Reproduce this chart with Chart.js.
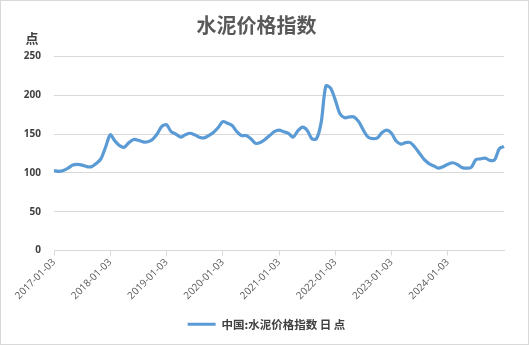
<!DOCTYPE html>
<html>
<head>
<meta charset="utf-8">
<script src="https://cdn.jsdelivr.net/npm/chart.js@4.4.1/dist/chart.umd.min.js"></script>
<style>
  html, body { margin: 0; padding: 0; background: #fff; }
  #wrap { width: 529px; height: 345px; box-sizing: border-box; border: 1px solid #d9d9d9; }
  canvas { display: block; }
</style>
</head>
<body>
<div id="wrap"><canvas id="c" width="527" height="343"></canvas></div>
<script>
/* 水泥价格指数 — monthly readings, 2017-01 .. 2025-01 */
var TITLE = "水泥价格指数";
var UNIT = "点";
var SERIES_NAME = "中国:水泥价格指数 日 点";

var startYear = 2017;
var values = [
  103, 102, 103, 106, 110, 111, 110, 108, 108, 112, 118, 133,   // 2017
  149, 141, 135, 133, 139, 143, 142, 140, 140, 143, 150, 160,   // 2018
  162, 153, 150, 146, 149, 151, 149, 146, 145, 148, 152, 158,   // 2019
  166, 164, 161, 153, 148, 148, 144, 138, 139, 143, 148, 153,   // 2020
  155, 153, 151, 146, 154, 159, 155, 144, 144, 165, 212, 209,   // 2021
  194, 176, 171, 172, 172, 166, 155, 146, 144, 145, 152, 155,   // 2022
  151, 141, 137, 139, 139, 133, 125, 117, 112, 109, 106, 108,   // 2023
  111, 113, 111, 107, 106, 107, 117, 118, 119, 116, 117, 131,   // 2024
  134                                                           // 2025-01
];
var yTicks = [0, 50, 100, 150, 200, 250];

var labels = values.map(function (_, i) {
  var y = startYear + Math.floor(i / 12);
  var m = (i % 12) + 1;
  return y + "-" + (m < 10 ? "0" + m : m) + "-03";
});

var BLUE = "#5b9bd5";
var TEXT = "#595959";
var GRID = "#d9d9d9";
var CJK = '"Noto Sans CJK SC", "Noto Sans", sans-serif';
var isYearTick = function (i) { return i % 12 === 0 && i < values.length - 1; };

/* "点" unit label above the y axis, legend nudged to the page centre */
var extras = {
  id: "extras",
  afterLayout: function (chart) {
    if (chart.legend) { chart.legend.left += 10; chart.legend.right += 10; }
  },
  afterDraw: function (chart) {
    var ctx = chart.ctx;
    ctx.save();
    ctx.font = "bold 13px " + CJK;
    ctx.fillStyle = "#404040";
    ctx.textAlign = "center";
    ctx.textBaseline = "middle";
    ctx.fillText(UNIT, 31, 37);
    ctx.restore();
  }
};

new Chart(document.getElementById("c"), {
  type: "line",
  data: {
    labels: labels,
    datasets: [{
      label: SERIES_NAME,
      data: values,
      borderColor: BLUE,
      backgroundColor: BLUE,
      borderWidth: 3.2,
      pointRadius: 0,
      tension: 0.3,
      fill: false
    }]
  },
  options: {
    responsive: false,
    animation: false,
    layout: { padding: { left: 8, right: 24, top: 8, bottom: 4 } },
    plugins: {
      title: {
        display: true,
        text: TITLE,
        color: TEXT,
        font: { family: CJK, size: 20, weight: "bold" },
        padding: { top: 4, bottom: 19.4 }
      },
      legend: {
        position: "bottom",
        labels: {
          color: "#404040",
          font: { family: CJK, size: 11.5, weight: "bold" },
          boxWidth: 28,
          boxHeight: 3,
          padding: 10,
          generateLabels: function (chart) {
            var items = Chart.defaults.plugins.legend.labels.generateLabels(chart);
            items.forEach(function (it) { it.lineWidth = 0; it.fillStyle = BLUE; });
            return items;
          }
        }
      },
      tooltip: { enabled: false }
    },
    scales: {
      x: {
        offset: false,
        grid: {
          drawOnChartArea: false,
          drawTicks: true,
          tickLength: 5,
          color: function (c) { return isYearTick(c.index) ? GRID : "rgba(0,0,0,0)"; }
        },
        border: { display: true, color: GRID },
        ticks: {
          autoSkip: false,
          maxRotation: 45,
          minRotation: 45,
          padding: 1,
          color: TEXT,
          font: { family: '"Open Sans", sans-serif', size: 10 },
          callback: function (v, i) { return isYearTick(i) ? labels[i] : ""; }
        },
        afterFit: function (s) { s.height = 58; }
      },
      y: {
        min: 0,
        max: 250,
        afterBuildTicks: function (s) { s.ticks = yTicks.map(function (v) { return { value: v }; }); },
        grid: { color: GRID, drawTicks: false },
        border: { display: false },
        ticks: {
          padding: 13,
          color: "#404040",
          font: { family: '"Open Sans", sans-serif', size: 10, weight: "bold" }
        },
        afterFit: function (s) { s.width = 45; }
      }
    }
  },
  plugins: [extras]
});
</script>
</body>
</html>
